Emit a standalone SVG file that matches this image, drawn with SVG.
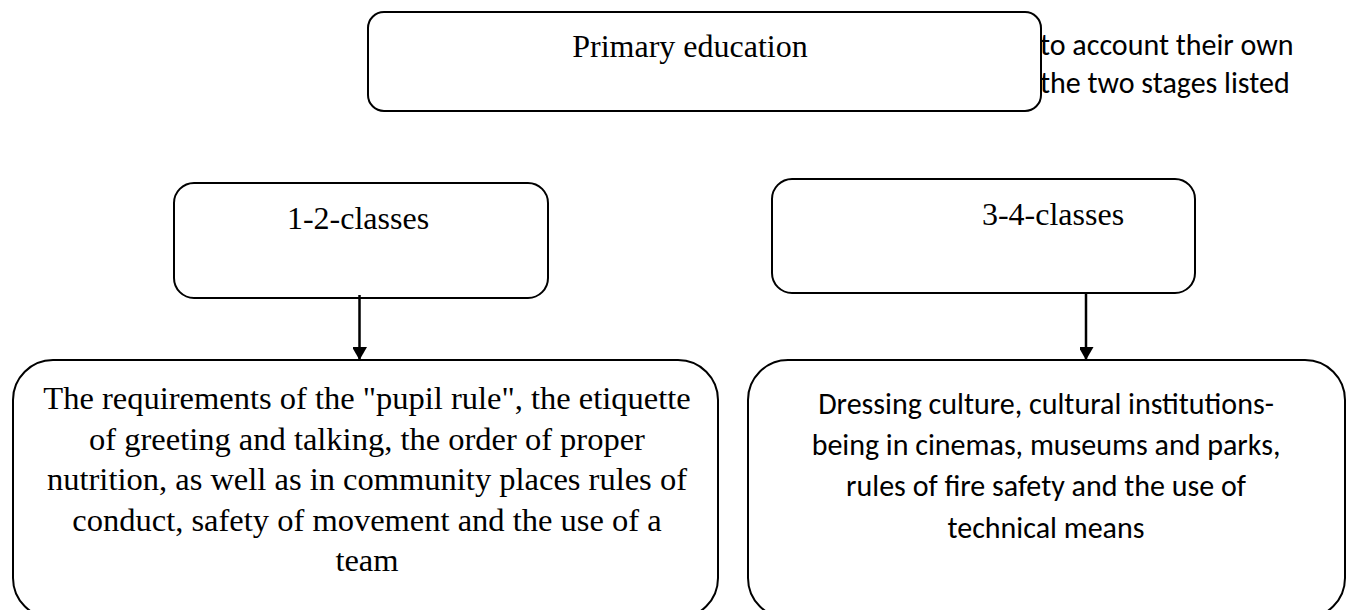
<svg xmlns="http://www.w3.org/2000/svg" width="1350" height="610" viewBox="0 0 1350 610">
<defs>
<style>
.box{fill:#fff;stroke:#000;stroke-width:2}
.tnr{font-family:"Liberation Serif","Times New Roman",serif;font-size:32px;fill:#000;text-anchor:middle}
.big{font-size:32.5px}
.cal{font-family:Carlito,"Open Sans",sans-serif;font-size:30px;fill:#000}
.conn{stroke:#000;stroke-width:2.5;fill:none}
</style>
<marker id="ah" markerUnits="userSpaceOnUse" markerWidth="16" markerHeight="14" refX="13" refY="7.5" orient="auto">
<path d="M0,0 L13,7.5 L0,15 Z" fill="#000"/>
</marker>
</defs>
<rect width="1350" height="610" fill="#fff"/>
<g id="side-text">
<text class="cal" x="1040" y="55">to account their own</text>
<text class="cal" x="1040" y="93">the two stages listed</text>
</g>
<g id="node-primary">
<rect class="box" x="368" y="12" width="673" height="99" rx="16" ry="16"/>
<text class="tnr" x="690" y="57">Primary education</text>
</g>
<g id="node-12">
<rect class="box" x="174" y="183" width="374" height="115" rx="20" ry="20"/>
<text class="tnr" x="358" y="229">1-2-classes</text>
</g>
<g id="node-34">
<rect class="box" x="772" y="179" width="423" height="114" rx="20" ry="20"/>
<text class="tnr" x="1053" y="225">3-4-classes</text>
</g>
<g id="node-rules12">
<rect class="box" x="13" y="360" width="705" height="258" rx="40" ry="40"/>
<text class="tnr big" x="367" y="409">The requirements of the "pupil rule", the etiquette</text>
<text class="tnr big" x="367" y="449.5">of greeting and talking, the order of proper</text>
<text class="tnr big" x="367" y="490">nutrition, as well as in community places rules of</text>
<text class="tnr big" x="367" y="530.5">conduct, safety of movement and the use of a</text>
<text class="tnr big" x="367" y="571">team</text>
</g>
<g id="node-rules34">
<rect class="box" x="748" y="360" width="597" height="258" rx="40" ry="40"/>
<text class="cal" text-anchor="middle" x="1046" y="414">Dressing culture, cultural institutions-</text>
<text class="cal" text-anchor="middle" x="1046" y="455">being in cinemas, museums and parks,</text>
<text class="cal" text-anchor="middle" x="1046" y="496">rules of fire safety and the use of</text>
<text class="cal" text-anchor="middle" x="1046" y="538">technical means</text>
</g>
<g id="connectors">
<line class="conn" x1="359.5" y1="295" x2="359.5" y2="360" marker-end="url(#ah)"/>
<line class="conn" x1="1086" y1="293" x2="1086" y2="360" marker-end="url(#ah)"/>
</g>
</svg>
